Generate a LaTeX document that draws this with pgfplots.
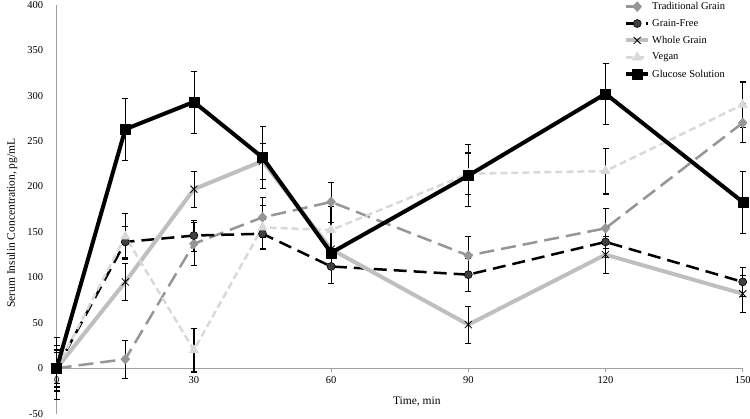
\documentclass[border=0pt]{standalone}
\usepackage{fontspec}
\setmainfont{Liberation Serif}
\usepackage{pgfplots}
\usepackage{pgfplotstable}
\pgfplotsset{compat=1.18}
\definecolor{trad}{RGB}{150,150,150}
\definecolor{gfree}{RGB}{64,64,64}
\definecolor{whole}{RGB}{191,191,191}
\definecolor{vegan}{RGB}{217,217,217}
\definecolor{axgray}{RGB}{160,160,160}

\pgfplotstableread{
t v e
0 0 21
15 10 21
30 137 24
45 166 22
60 183 22
90 124 21
120 154 22
150 270 21
}\trad
\pgfplotstableread{
t v e
0 0 17
15 139 17
30 146 17
45 148 16
60 112 19
90 103 18
120 139 17
150 95 16
}\gfree
\pgfplotstableread{
t v e
0 0 20
15 95 20
30 197 20
45 228 20
60 131 20
90 48 20
120 125 20
150 82 20
}\whole
\pgfplotstableread{
t v e
0 0 25
15 145 25
30 20 24
45 155 24
60 152 26
90 214 23
120 217 25
150 290 25
}\vegan
\pgfplotstableread{
t v e
0 0 34
15 263 34
30 293 34
45 232 34
60 127 34
90 212 34
120 302 34
150 183 34
}\gluc

\begin{document}
\begin{tikzpicture}
\begin{axis}[
  scale only axis, width=686pt, height=409pt,
  xmin=0, xmax=150, ymin=-50, ymax=400,
  axis lines=middle,
  axis line style={-, draw=axgray, line width=1.2pt},
  hide obscured x ticks=false, hide obscured y ticks=false,
  xtick={0,30,60,90,120,150}, xticklabels={0,30,60,90,120,150},
  ytick={-50,0,50,100,150,200,250,300,350,400},
  yticklabels={-50,0,50,100,150,200,250,300,350,400},
  tick align=outside, major tick length=4pt,
  x tick style={draw=axgray, line width=0.8pt},
  y tick style={draw=none},
  ticklabel style={font=\fontsize{10.5}{12}\selectfont},
  yticklabel style={anchor=east, xshift=-6pt},
  xticklabel style={anchor=north, yshift=-1pt},
  clip=false,
  every axis x label/.style={at={(axis description cs:0.525,0.029)}, anchor=center, font=\fontsize{11.5}{13}\selectfont},
  every axis y label/.style={at={(axis description cs:-0.065,0.466)}, rotate=90, anchor=center, font=\fontsize{11.5}{13}\selectfont},
  xlabel={Time, min},
  ylabel={Serum Insulin Concentration, pg/mL},
  line join=round,
  legend style={draw=none, fill=none, at={(axis description cs:0.827,1.0115)}, anchor=north west,
    font=\fontsize{10.5}{12}\selectfont, row sep=4.3pt, inner sep=0pt, cells={anchor=west}},
  legend image code/.code={\draw[mark repeat=2,mark phase=2,#1] plot coordinates {(0pt,0pt) (11pt,0pt) (22pt,0pt)};},
  error bars/y dir=both, error bars/y explicit,
]
\addplot[trad, line width=2.5pt, dash pattern=on 15pt off 7pt,
  mark=diamond*, mark options={solid, fill=trad, draw=trad, line width=0.4pt, mark size=5pt, xscale=1.2},
  error bars/error bar style={solid, line width=0.6pt, black},
  error bars/error mark options={solid, rotate=90, black, mark size=3pt, line width=0.6pt}]
  table[x=t, y=v, y error=e] {\trad};
\addlegendentry{Traditional Grain}
\addplot[black, line width=2.5pt, dash pattern=on 13pt off 7pt,
  mark=*, mark options={solid, fill=gfree, draw=black, line width=0.6pt, mark size=4pt},
  error bars/error bar style={solid, line width=1pt, black},
  error bars/error mark options={solid, rotate=90, black, mark size=3pt, line width=1pt}]
  table[x=t, y=v, y error=e] {\gfree};
\addlegendentry{Grain-Free}
\addplot[whole, line width=4pt,
  mark=x, mark options={solid, draw=black, line width=0.8pt, mark size=5pt},
  error bars/error bar style={solid, line width=0.6pt, black},
  error bars/error mark options={solid, rotate=90, black, mark size=3pt, line width=0.6pt}]
  table[x=t, y=v, y error=e] {\whole};
\addlegendentry{Whole Grain}
\addplot[vegan, line width=2.5pt, dash pattern=on 7pt off 4pt,
  mark=triangle*, mark options={solid, fill=vegan, draw=vegan, line width=0.4pt, mark size=5.5pt},
  error bars/error bar style={solid, line width=1.5pt, black},
  error bars/error mark options={solid, rotate=90, black, mark size=3pt, line width=1.5pt}]
  table[x=t, y=v, y error=e] {\vegan};
\addlegendentry{Vegan}
\addplot[black, line width=4pt,
  mark=square*, mark options={solid, fill=black, draw=black, line width=0.4pt, mark size=5pt},
  error bars/error bar style={solid, line width=0.6pt, black},
  error bars/error mark options={solid, rotate=90, black, mark size=3pt, line width=0.6pt}]
  table[x=t, y=v, y error=e] {\gluc};
\addlegendentry{Glucose Solution}
\end{axis}
\pgfresetboundingbox
\path (-56.7pt,-4.3pt) rectangle (693.3pt,413.7pt);
\end{tikzpicture}
\end{document}
